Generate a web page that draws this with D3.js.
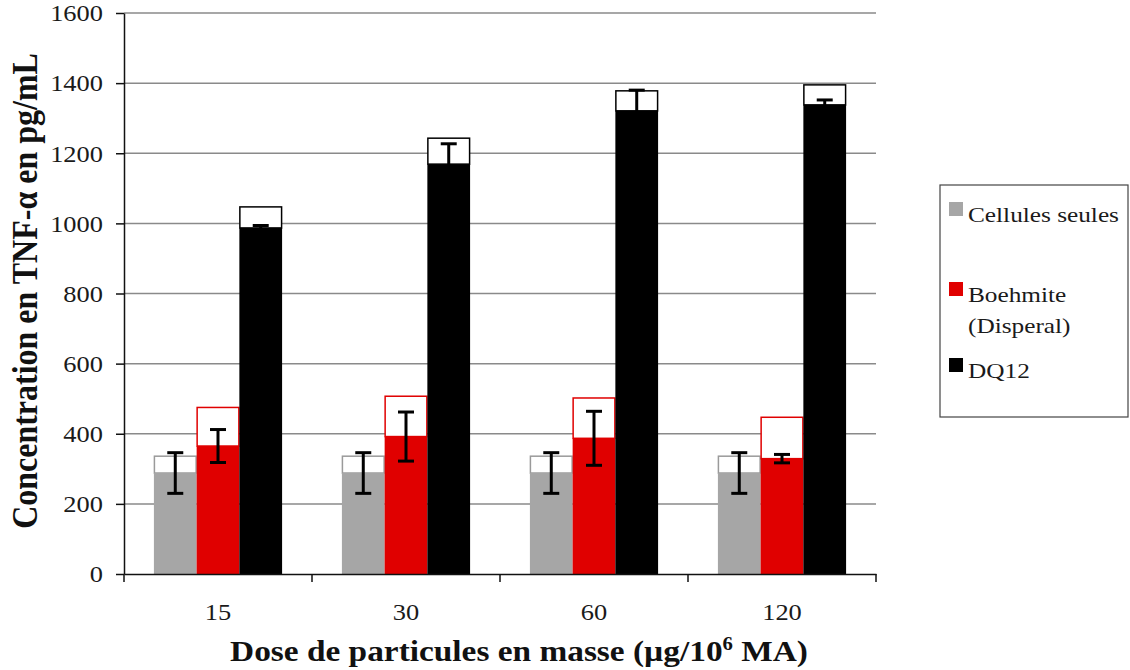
<!DOCTYPE html>
<html>
<head>
<meta charset="utf-8">
<title>TNF-alpha</title>
<script src="https://cdn.jsdelivr.net/npm/d3@7"></script>
<style>
  body { margin: 0; background: #fff; }
</style>
</head>
<body>
<div id="chart"></div>
<script>
// data
const categories = ["15", "30", "60", "120"];
const seriesNames = ["Cellules seules", "Boehmite (Disperal)", "DQ12"];
const cellules    = [288, 288, 288, 288];
const cellulesBox = [336, 336, 336, 336];
const cellulesErr = [58, 58, 58, 58];
const boehmite    = [365, 392, 387, 329];
const boehmiteBox = [475, 507, 502, 447];
const boehmiteErr = [47, 70, 77, 12];
const dq12        = [987, 1169, 1321, 1338];
const dq12Box     = [1047, 1243, 1378, 1395];
const dq12Err     = [7, 58, 59, 14];
const yTicks = [0, 200, 400, 600, 800, 1000, 1200, 1400, 1600];

const colors = ["#a6a6a6", "#e00000", "#000000"];
const boxStroke = ["#9a9a9a", "#e00000", "#000000"];
const serif = "'Liberation Serif', 'Times New Roman', Times, 'DejaVu Serif', serif";
const sx = 1.15; // the figure is a bit stretched horizontally

const width = 1130, height = 670;
const margin = {top: 13, right: 254, bottom: 96, left: 124};

const series = [
  {name: seriesNames[0], vals: cellules, box: cellulesBox, err: cellulesErr},
  {name: seriesNames[1], vals: boehmite, box: boehmiteBox, err: boehmiteErr},
  {name: seriesNames[2], vals: dq12, box: dq12Box, err: dq12Err}
];

const svg = d3.select("#chart").append("svg")
  .attr("width", width).attr("height", height);

const x0 = d3.scaleBand().domain(categories)
  .range([margin.left, width - margin.right]).padding(0);
const x1 = d3.scaleBand().domain(d3.range(series.length))
  .range([0, x0.bandwidth()]).paddingInner(0).paddingOuter(0.7);
const y = d3.scaleLinear().domain([0, 1600])
  .range([height - margin.bottom, margin.top]);

// grid
svg.append("g").selectAll("line")
  .data(yTicks.filter(d => d > 0))
  .join("line")
  .attr("x1", margin.left).attr("x2", width - margin.right)
  .attr("y1", d => y(d)).attr("y2", d => y(d))
  .attr("stroke", "#8a8a8a").attr("stroke-width", 1.5);

// bars
const groups = svg.append("g").selectAll("g")
  .data(categories)
  .join("g")
  .attr("transform", c => `translate(${x0(c)},0)`);

series.forEach((s, si) => {
  groups.append("rect")
    .attr("x", x1(si) + 0.5)
    .attr("width", x1.bandwidth() - 1)
    .attr("y", (c, i) => y(s.box[i]))
    .attr("height", (c, i) => y(s.vals[i]) - y(s.box[i]))
    .attr("fill", "#fff")
    .attr("stroke", boxStroke[si]).attr("stroke-width", 1.5);
  groups.append("rect")
    .attr("x", x1(si))
    .attr("width", x1.bandwidth())
    .attr("y", (c, i) => y(s.vals[i]))
    .attr("height", (c, i) => y(0) - y(s.vals[i]))
    .attr("fill", colors[si]);
});

// error bars
series.forEach((s, si) => {
  const cx = x1(si) + x1.bandwidth() / 2;
  const eb = groups.append("g").attr("stroke", "#000").attr("stroke-width", 3);
  eb.append("line")
    .attr("x1", cx).attr("x2", cx)
    .attr("y1", (c, i) => y(s.vals[i] + s.err[i]))
    .attr("y2", (c, i) => y(s.vals[i] - s.err[i]));
  eb.append("line")
    .attr("x1", cx - 8).attr("x2", cx + 8)
    .attr("y1", (c, i) => y(s.vals[i] + s.err[i]))
    .attr("y2", (c, i) => y(s.vals[i] + s.err[i]));
  eb.append("line")
    .attr("x1", cx - 8).attr("x2", cx + 8)
    .attr("y1", (c, i) => y(s.vals[i] - s.err[i]))
    .attr("y2", (c, i) => y(s.vals[i] - s.err[i]));
});

// y axis
const yAxis = svg.append("g")
  .attr("transform", `translate(${margin.left},0)`)
  .call(d3.axisLeft(y).tickValues(yTicks).tickFormat(d3.format("d"))
    .tickSize(8).tickSizeOuter(0).tickPadding(0));
yAxis.attr("font-family", null);
yAxis.select(".domain").attr("stroke", "#111").attr("stroke-width", 1.5);
yAxis.selectAll(".tick line").attr("stroke", "#111").attr("stroke-width", 1.5);
yAxis.selectAll(".tick text")
  .attr("x", -21 / sx).attr("dy", "0.34em")
  .attr("transform", `scale(${sx},1)`)
  .style("font-family", serif)
  .style("font-size", "23px").style("fill", "#1a1a1a");

// x axis
const xAxis = svg.append("g")
  .attr("transform", `translate(0,${y(0)})`)
  .call(d3.axisBottom(x0).tickSize(0).tickPadding(0));
xAxis.attr("font-family", null);
xAxis.select(".domain").attr("stroke", "#111").attr("stroke-width", 1.5);
xAxis.selectAll(".tick text")
  .attr("y", 46).attr("dy", 0)
  .attr("transform", `scale(${sx},1)`)
  .style("font-family", serif)
  .style("font-size", "23px").style("fill", "#1a1a1a");
xAxis.selectAll(".bnd")
  .data(categories.map(c => x0(c)).concat([x0.range()[1]]))
  .join("line").attr("class", "bnd")
  .attr("x1", d => d).attr("x2", d => d)
  .attr("y1", 0).attr("y2", 8)
  .attr("stroke", "#111").attr("stroke-width", 1.5);

// axis titles
const xt = svg.append("text")
  .attr("transform", `translate(${(margin.left + width - margin.right) / 2 + 19},661) scale(${sx},1)`)
  .attr("text-anchor", "middle")
  .style("font-family", serif)
  .style("font-size", "29px").style("font-weight", "bold").style("fill", "#111");
xt.append("tspan").text("Dose de particules en masse (µg/10");
xt.append("tspan").text("6").attr("dy", -11).style("font-size", "18px");
xt.append("tspan").text(" MA)").attr("dy", 11);

svg.append("text")
  .attr("transform", `translate(37,291) scale(${sx},1) rotate(-90)`)
  .attr("text-anchor", "middle")
  .style("font-family", serif)
  .style("font-size", "32px").style("font-weight", "bold").style("fill", "#111")
  .text("Concentration en TNF-α en pg/mL");

// legend
const lg = svg.append("g").attr("transform", "translate(940,185)");
lg.append("rect").attr("width", 188).attr("height", 232)
  .attr("fill", "#fff").attr("stroke", "#444").attr("stroke-width", 1.2);
const legendRows = [
  {lines: ["Cellules seules"], y: 17},
  {lines: ["Boehmite", "(Disperal)"], y: 97},
  {lines: ["DQ12"], y: 173}
];
legendRows.forEach((r, i) => {
  lg.append("rect").attr("x", 9).attr("y", r.y).attr("width", 14).attr("height", 14)
    .attr("fill", colors[i]);
  r.lines.forEach((t, j) => {
    lg.append("text")
      .attr("transform", `translate(28,${r.y + 20 + j * 31}) scale(${sx},1)`)
      .style("font-family", serif)
      .style("font-size", "22px").style("fill", "#1a1a1a")
      .text(t);
  });
});
</script>
</body>
</html>
